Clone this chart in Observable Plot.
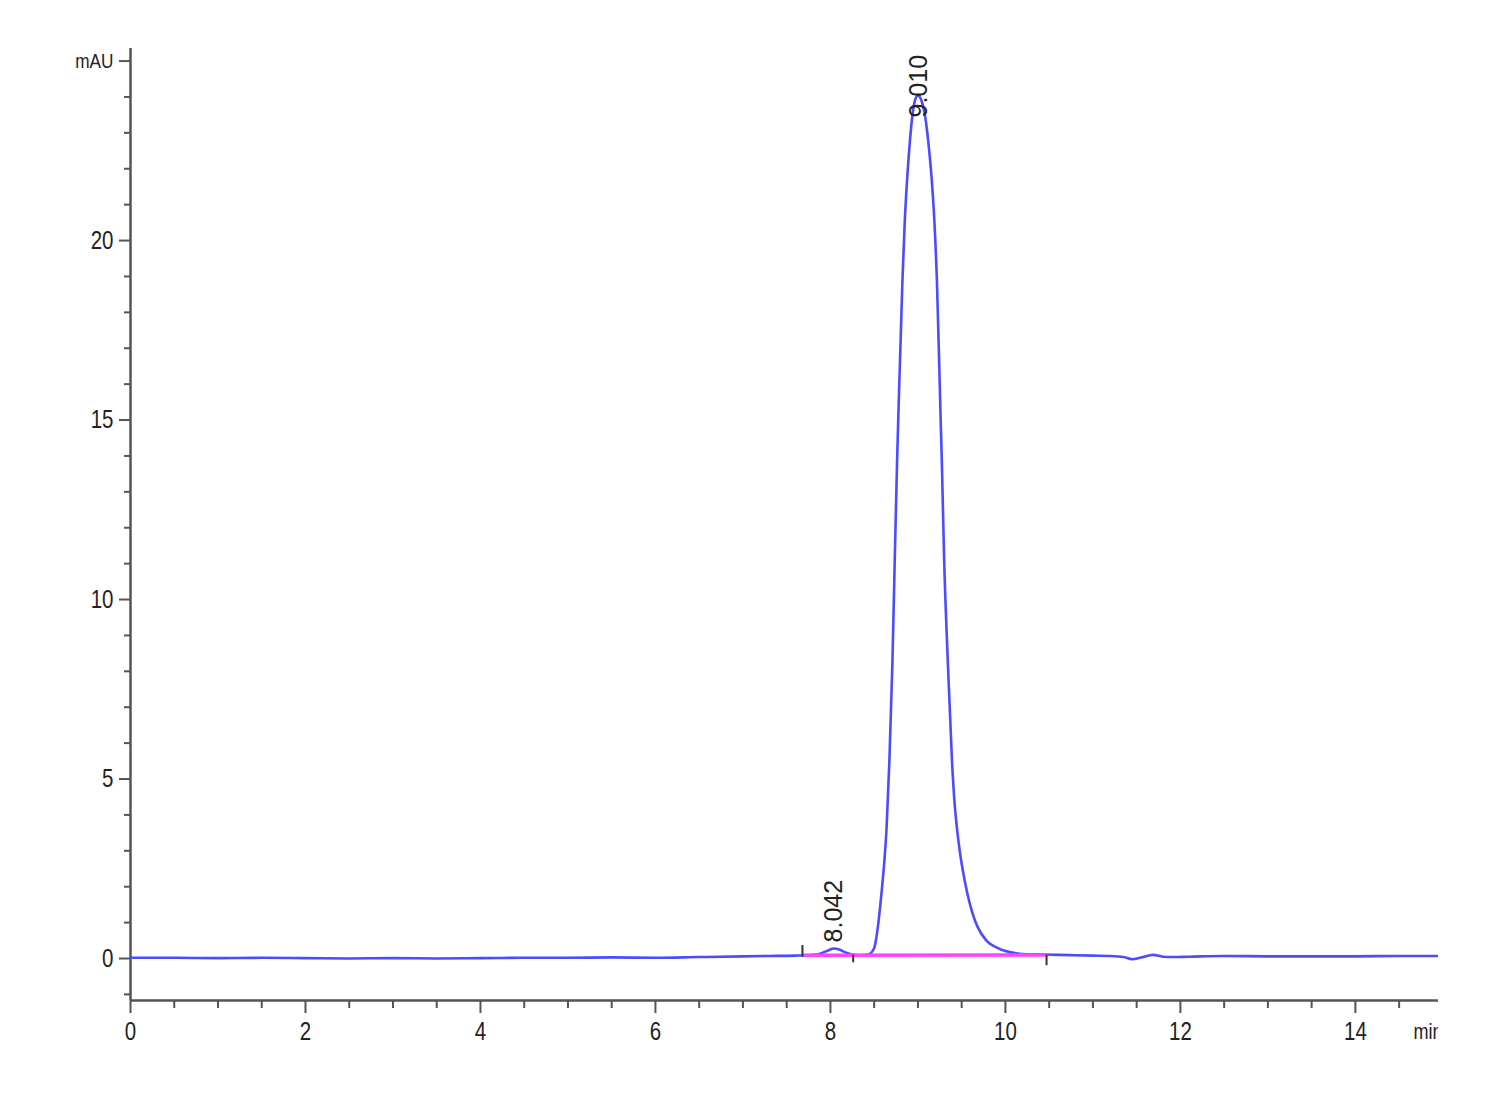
<!DOCTYPE html>
<html>
<head>
<meta charset="utf-8">
<script src="https://cdn.jsdelivr.net/npm/d3@7"></script>
<script src="https://cdn.jsdelivr.net/npm/@observablehq/plot@0.6"></script>
<style>
  html, body { margin: 0; padding: 0; background: white; }
  #chart { width: 1500px; height: 1100px; }
</style>
</head>
<body>
<div id="chart"></div>
<script>
// Chromatogram trace (min, mAU)
const time = [
  0, 0.5, 1, 1.5, 2, 2.5, 3, 3.5, 4, 4.5, 5, 5.5, 6, 6.5, 7, 7.3, 7.6,
  7.8, 7.9, 7.97, 8.04, 8.1, 8.17, 8.25, 8.35, 8.42, 8.457, 8.503, 8.541,
  8.583, 8.617, 8.642, 8.674, 8.709, 8.735, 8.762, 8.777, 8.823, 8.849,
  8.872, 8.898, 8.933, 8.966, 9.002, 9.040, 9.086, 9.131, 9.163, 9.189, 9.217,
  9.258, 9.273, 9.30, 9.341, 9.389, 9.417, 9.445, 9.477, 9.541, 9.640, 9.686,
  9.783, 9.897, 10.137, 10.25, 10.48, 10.6, 10.8, 11.0, 11.2, 11.35, 11.45,
  11.55, 11.69, 11.8, 11.9, 12.1, 12.5, 13.0, 13.5, 14.0, 14.5, 14.95
];
const absorbance = [
  0.02, 0.02, 0.01, 0.02, 0.01, 0.0, 0.01, 0.0, 0.01, 0.02, 0.02, 0.03, 0.02, 0.04, 0.06, 0.07, 0.08,
  0.10, 0.15, 0.22, 0.28, 0.25, 0.17, 0.11, 0.09, 0.10, 0.14, 0.31, 0.86,
  1.81, 2.73, 3.65, 5.52, 8.30, 11.09, 13.87, 15.18, 18.89, 20.50,
  21.53, 22.45, 23.40, 23.90, 24.04, 23.90, 23.40, 22.45, 21.53, 20.50, 18.89,
  15.18, 13.87, 11.09, 8.30, 5.52, 4.40, 3.65, 3.01, 2.09, 1.14, 0.86,
  0.50, 0.31, 0.14, 0.12, 0.11, 0.10, 0.09, 0.08, 0.07, 0.04, -0.02,
  0.03, 0.10, 0.05, 0.04, 0.05, 0.07, 0.06, 0.06, 0.06, 0.07, 0.07
];

// Peak annotations
const peakTimes = [8.042, 9.010];
const peakHeights = [0.28, 24.04];
const peakLabels = ["8.042", "9.010"];

// Integration baseline (pink) and event markers
const baselineTimes = [7.68, 10.47];
const baselineValues = [0.09, 0.10];
const eventTimes = [7.68, 8.26, 10.47];
const eventLow = [0.03, -0.12, -0.20];
const eventHigh = [0.36, 0.09, 0.10];

// Axes
const xDomain = [0, 14.95];
const yDomain = [-1.17, 25.35];
const xMajorTicks = [0, 2, 4, 6, 8, 10, 12, 14];
const xMinorTicks = [0.5,1,1.5,2.5,3,3.5,4.5,5,5.5,6.5,7,7.5,8.5,9,9.5,10.5,11,11.5,12.5,13,13.5,14.5];
const yMajorTicks = [0, 5, 10, 15, 20];
const yMinorTicks = [-1,1,2,3,4,6,7,8,9,11,12,13,14,16,17,18,19,21,22,23,24];
const yUnitTick = [25];
const yUnitLabel = "mAU";
const xUnitLabel = "min";

const trace = time.map((t, i) => ({t, v: absorbance[i]}));
const peaks = peakTimes.map((t, i) => ({t, v: peakHeights[i], label: peakLabels[i]}));
const baseline = baselineTimes.map((t, i) => ({t, v: baselineValues[i]}));
const events = eventTimes.map((t, i) => ({t, lo: eventLow[i], hi: eventHigh[i]}));

const sans = "'Liberation Sans', Arial, sans-serif";
const axisColor = "#555";
const textColor = "#222";

const chart = Plot.plot({
  width: 1438,
  height: 1100,
  marginLeft: 130,
  marginRight: 0,
  marginTop: 48,
  marginBottom: 100,
  style: {overflow: "hidden", background: "white"},
  x: {domain: xDomain, label: null},
  y: {domain: yDomain, label: null},
  marks: [
    Plot.ruleX([xDomain[0]], {stroke: axisColor, strokeWidth: 2.5}),
    Plot.ruleY([yDomain[0]], {stroke: axisColor, strokeWidth: 2.5}),
    Plot.axisX(xMajorTicks, {label: null, tickSize: 13, tickPadding: 9, stroke: axisColor, strokeWidth: 2,
      fontSize: 25, fontFamily: sans, fill: textColor}),
    Plot.axisX(xMinorTicks, {label: null, tickSize: 8, tickFormat: () => "", stroke: axisColor, strokeWidth: 2}),
    Plot.axisY(yMajorTicks, {label: null, tickSize: 11, tickPadding: 6, stroke: axisColor, strokeWidth: 2,
      fontSize: 25, fontFamily: sans, fill: textColor}),
    Plot.axisY(yUnitTick, {label: null, tickSize: 11, tickPadding: 6, stroke: axisColor, strokeWidth: 2,
      tickFormat: () => yUnitLabel, fontSize: 21, fontFamily: sans, fill: textColor}),
    Plot.axisY(yMinorTicks, {label: null, tickSize: 6, tickFormat: () => "", stroke: axisColor, strokeWidth: 2}),
    Plot.text([xUnitLabel], {frameAnchor: "bottom-right", textAnchor: "start", lineAnchor: "top",
      dx: -25, dy: 23, fontSize: 22, fontFamily: sans, fill: textColor}),
    Plot.line(trace, {x: "t", y: "v", stroke: "#4b4bff", strokeWidth: 2.6, curve: "monotone-x"}),
    Plot.line(baseline, {x: "t", y: "v", stroke: "#ff44ff", strokeWidth: 3.5}),
    Plot.ruleX(events, {x: "t", y1: "lo", y2: "hi", stroke: "#333", strokeWidth: 2}),
    Plot.text(peaks.slice(0, 1), {x: "t", y: "v", text: "label", rotate: -90, textAnchor: "start",
      dy: -6, fontSize: 25, fontFamily: sans, fill: textColor, style: "letter-spacing:1.5px"}),
    Plot.text(peaks.slice(1), {x: "t", y: "v", text: "label", rotate: -90, textAnchor: "start",
      dy: 22, fontSize: 25, fontFamily: sans, fill: textColor, style: "letter-spacing:1.5px"})
  ]
});
document.getElementById("chart").appendChild(chart);

// Narrow (condensed) look for the axis labels, like the instrument's Arial Narrow
const narrowTexts = new Set([yUnitLabel, xUnitLabel, ...xMajorTicks.map(String), ...yMajorTicks.map(String)]);
chart.querySelectorAll('g[aria-label$="tick label"] text, g[aria-label="text"] text').forEach(el => {
  if (!narrowTexts.has(el.textContent)) return;
  const len = el.getComputedTextLength();
  if (len > 0) {
    el.setAttribute("textLength", (len * 0.82).toFixed(1));
    el.setAttribute("lengthAdjust", "spacingAndGlyphs");
  }
});
</script>
</body>
</html>
